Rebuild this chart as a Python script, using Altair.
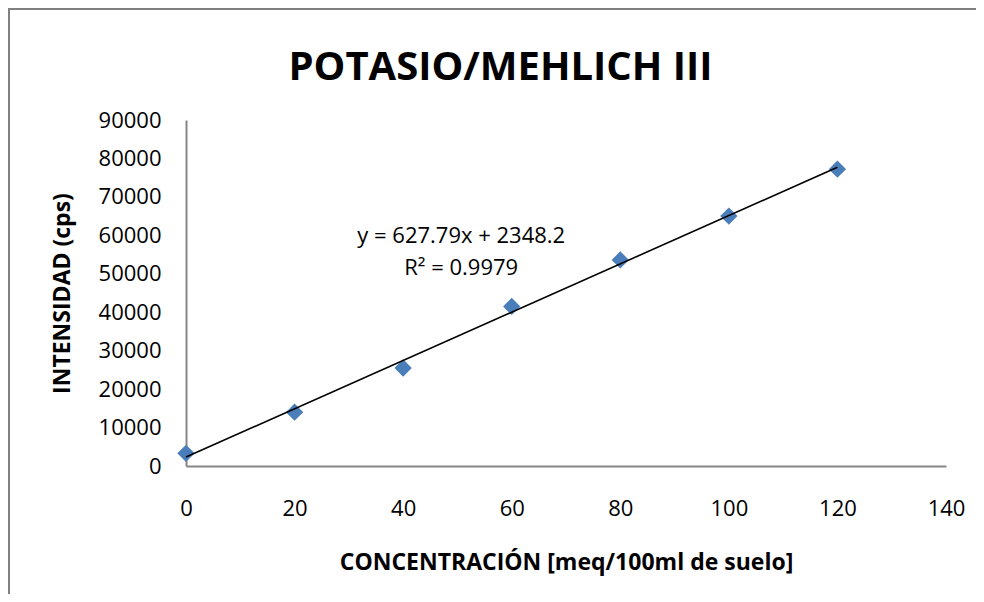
import altair as alt
import pandas as pd

# ---- data ----
conc = [0, 20, 40, 60, 80, 100, 120]
intensidad = [3300, 14000, 25500, 41500, 53600, 65000, 77200]
x_ticks = [0, 20, 40, 60, 80, 100, 120, 140]
y_ticks = [0, 10000, 20000, 30000, 40000, 50000, 60000, 70000, 80000, 90000]
chart_title = "POTASIO/MEHLICH III"
x_title = "CONCENTRACIÓN [meq/100ml de suelo]"
y_title = "INTENSIDAD (cps)"
eq_text = ["y = 627.79x + 2348.2", "R² = 0.9979"]
eq_x = [50.7, 50.7]
eq_y = [58000, 49700]

FONT = "Open Sans"
AXIS_GRAY = "#868686"

df = pd.DataFrame({"conc": conc, "intensidad": intensidad})
eq_df = pd.DataFrame({"x": eq_x, "y": eq_y, "t": eq_text})

xs = alt.Scale(domain=[0, 140], nice=False, zero=True)
ys = alt.Scale(domain=[0, 90000], nice=False)

x_axis = alt.Axis(values=x_ticks, title=x_title, grid=False, ticks=False,
                  domainColor=AXIS_GRAY, domainWidth=2, labelFont=FONT,
                  labelFontSize=22, labelColor="black", labelPadding=32,
                  labelOverlap=False,
                  titleFont=FONT, titleFontSize=23, titleFontWeight="bold",
                  titleColor="black", titlePadding=32, labelFlush=False)
y_axis = alt.Axis(values=y_ticks, format="d", title=y_title, grid=False, ticks=False,
                  domainColor=AXIS_GRAY, domainWidth=2, labelFont=FONT,
                  labelFontSize=22, labelColor="black", labelPadding=25,
                  labelOverlap=False,
                  titleFont=FONT, titleFontSize=23, titleFontWeight="bold",
                  titleColor="black", titlePadding=24, labelFlush=False)

one = pd.DataFrame({"a": [0]})
border_top = alt.Chart(one).mark_rule(color="#808080", strokeWidth=2).encode(
    x=alt.value(-178), x2=alt.value(2000), y=alt.value(-111))
border_left = alt.Chart(one).mark_rule(color="#808080", strokeWidth=2).encode(
    x=alt.value(-177), y=alt.value(-112), y2=alt.value(2000))

points = alt.Chart(df).mark_point(
    shape="diamond", filled=True, color="#4A7EBB", size=300, opacity=1
).encode(
    x=alt.X("conc:Q", scale=xs, axis=x_axis),
    y=alt.Y("intensidad:Q", scale=ys, axis=y_axis),
)

trend = alt.Chart(df).transform_regression(
    "conc", "intensidad", extent=[0, 120]
).mark_line(color="black", strokeWidth=1.6).encode(
    x=alt.X("conc:Q", scale=xs, axis=x_axis),
    y=alt.Y("intensidad:Q", scale=ys, axis=y_axis),
)

eq = alt.Chart(eq_df).mark_text(
    font=FONT, fontSize=22, color="black", align="center", baseline="alphabetic"
).encode(
    x=alt.X("x:Q", scale=xs, axis=x_axis),
    y=alt.Y("y:Q", scale=ys, axis=y_axis),
    text="t:N",
)

title = alt.Chart(pd.DataFrame({"t": [chart_title]})).mark_text(
    font=FONT, fontSize=40, fontWeight="bold", color="black",
    align="center", baseline="alphabetic"
).encode(x=alt.value(314.5), y=alt.value(-40), text="t:N")

chart = alt.layer(border_top, border_left, points, trend, eq, title).properties(
    width=760, height=346,
    padding={"left": 178, "top": 112, "right": 30, "bottom": 128},
    autosize=alt.AutoSizeParams(type="none"),
).configure_view(stroke=None)

chart.save("out.html", embed_options={"renderer": "svg", "actions": False})
